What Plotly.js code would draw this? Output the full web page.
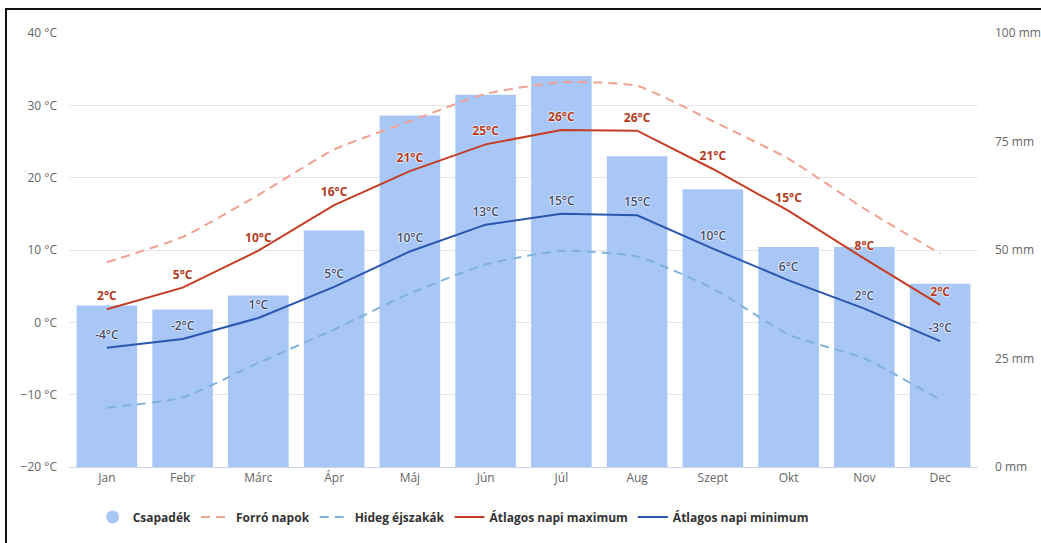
<!DOCTYPE html>
<html>
<head>
<meta charset="utf-8">
<script src="https://cdn.plot.ly/plotly-3.0.1.min.js"></script>
<style>
html,body{margin:0;padding:0;background:#fff;}
#frame{position:absolute;left:5px;top:8px;width:1040px;height:540px;border-left:2px solid #111;border-top:2px solid #111;box-sizing:border-box;pointer-events:none;z-index:10;}
#chart{position:absolute;left:0;top:0;width:1041px;height:543px;}
</style>
</head>
<body>
<div id="chart"></div>
<div id="frame"></div>
<script>
const months = ["Jan","Febr","Márc","Ápr","Máj","Jún","Júl","Aug","Szept","Okt","Nov","Dec"];
const precip = [37.2, 36.3, 39.5, 54.5, 81.0, 85.8, 90.1, 71.6, 64.0, 50.7, 50.7, 42.2];
const hotDays = [8.3, 11.8, 17.6, 23.9, 27.8, 31.6, 33.2, 32.7, 27.8, 22.6, 15.7, 9.5];
const coldNights = [-11.8, -10.4, -5.6, -1.0, 4.0, 8.0, 9.9, 9.1, 4.7, -1.7, -5.0, -10.7];
const avgMax = [1.8, 4.8, 9.9, 16.2, 20.9, 24.6, 26.6, 26.5, 21.2, 15.4, 8.8, 2.4];
const avgMin = [-3.5, -2.3, 0.6, 4.9, 9.8, 13.5, 15.0, 14.8, 10.2, 5.8, 1.9, -2.6];
const maxLabels = ["2°C","5°C","10°C","16°C","21°C","25°C","26°C","26°C","21°C","15°C","8°C","2°C"];
const minLabels = ["-4°C","-2°C","1°C","5°C","10°C","13°C","15°C","15°C","10°C","6°C","2°C","-3°C"];
const mmTicks = [0, 25, 50, 75, 100];
const mmTickText = ["0 mm","25 mm","50 mm","75 mm","100 mm"];

const barColor = "#a8c7f7";
const halo = "0 0 2px #fff, 0 0 2px #fff, 0 0 1px #fff";
const fontFam = "'Open Sans', 'DejaVu Sans', sans-serif";

const traces = [
  {type:"bar", x:months, y:precip, yaxis:"y", marker:{color:barColor}, showlegend:false, hoverinfo:"skip"},
  {type:"scatter", mode:"markers", x:[null], y:[null], yaxis:"y2", name:"Csapadék", marker:{symbol:"circle", size:13, color:barColor}},
  {type:"scatter", mode:"lines", x:months, y:hotDays, yaxis:"y2", name:"Forró napok", line:{color:"#f0a292", width:2, dash:"9px,6px", shape:"spline", smoothing:0.5}},
  {type:"scatter", mode:"lines", x:months, y:coldNights, yaxis:"y2", name:"Hideg éjszakák", line:{color:"#7fb2dc", width:2, dash:"9px,6px", shape:"spline", smoothing:0.5}},
  {type:"scatter", mode:"lines+markers+text", x:months, y:avgMax, yaxis:"y2", name:"Átlagos napi maximum", line:{color:"#c43d24", width:2}, marker:{size:8, color:"rgba(0,0,0,0)"}, text:maxLabels, textposition:"top center", textfont:{family:fontFam, size:12, color:"#b53a22", weight:"bold", shadow:halo}, cliponaxis:false},
  {type:"scatter", mode:"lines+markers+text", x:months, y:avgMin, yaxis:"y2", name:"Átlagos napi minimum", line:{color:"#2a56b0", width:2}, marker:{size:8, color:"rgba(0,0,0,0)"}, text:minLabels, textposition:"top center", textfont:{family:fontFam, size:12, color:"#3f4d6b", weight:600, shadow:halo}, cliponaxis:false}
];

const layout = {
  width:1041, height:543,
  margin:{l:69, r:63, t:33, b:74},
  paper_bgcolor:"#fff", plot_bgcolor:"#fff",
  font:{family:fontFam, color:"#666", size:12},
  bargap:0.2,
  hovermode:false,
  xaxis:{type:"category", range:[-0.5, 11.5], automargin:false, showgrid:false, showline:true, linecolor:"#ccd6eb", ticks:"", tickfont:{size:12, color:"#666"}, fixedrange:true},
  yaxis:{range:[0,100], automargin:false, tickvals:mmTicks, ticktext:mmTickText, side:"right", showgrid:false, zeroline:false, showline:false, tickfont:{size:12, color:"#666"}, ticklabelstandoff:16, fixedrange:true},
  yaxis2:{range:[-20,40], automargin:false, dtick:10, ticksuffix:" °C", overlaying:"y", side:"left", gridcolor:"#e6e6e6", showgrid:true, zeroline:false, showline:false, tickfont:{size:12, color:"#666"}, ticklabelstandoff:11, fixedrange:true},
  showlegend:true,
  legend:{orientation:"h", x:0.026, xanchor:"left", y:-0.115, yanchor:"middle", font:{size:12, color:"#333", weight:"bold"}, itemwidth:30, tracegroupgap:0}
};

Plotly.newPlot("chart", traces, layout, {displayModeBar:false, staticPlot:true});
</script>
</body>
</html>
